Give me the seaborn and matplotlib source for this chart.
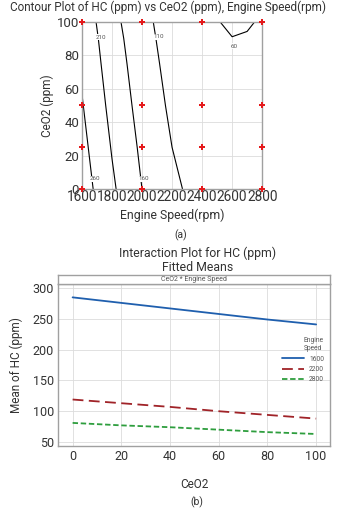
import matplotlib
matplotlib.use("Agg")
import matplotlib.pyplot as plt
import numpy as np
import pandas as pd
import seaborn as sns

# contour surface, HC (ppm)
speed_grid = [1600, 1800, 2000, 2200, 2400, 2500, 2600, 2700, 2800]
ceo2_grid = [0, 25, 50, 75, 90, 100]
hc_grid = [
    [285, 218, 160, 118, 95, 88, 82, 80, 80],
    [274, 207, 151, 110, 88, 81, 76, 75, 75],
    [263, 196, 142, 101, 80, 74, 70, 70, 71],
    [252, 186, 134, 93, 73, 67, 64, 64, 66],
    [246, 180, 129, 88, 69, 63, 60.5, 61.5, 64],
    [241, 175, 125, 85, 66, 61, 56, 58, 62],
]
contour_levels = [60, 110, 160, 210, 260]

# design points
design_speed = [1600, 1600, 1600, 1600, 2000, 2000, 2000, 2000,
                2400, 2400, 2400, 2400, 2800, 2800, 2800, 2800]
design_ceo2 = [0, 25, 50, 100] * 4

# fitted means for the interaction plot
ceo2_levels = [0, 20, 40, 60, 80, 100]
hc_1600 = [285, 276, 267, 258, 249, 241]
hc_2200 = [119, 113, 107, 100, 94, 88]
hc_2800 = [81, 77, 74, 70, 66, 63]

sns.set_theme(style="whitegrid")
plt.rcParams["font.family"] = ["Roboto", "DejaVu Sans"]
txt = "#333333"
frame = "#a0a0a0"

fig = plt.figure(figsize=(3.4, 5.09), dpi=100)

# ---- (a) contour plot
ax1 = fig.add_axes([0.241, 0.6287, 0.530, 0.3283])
X, Y = np.meshgrid(speed_grid, ceo2_grid)
cs = ax1.contour(X, Y, np.array(hc_grid), levels=contour_levels,
                 colors="black", linewidths=0.8)
labels = ax1.clabel(cs, fmt="%d", fontsize=4.5, colors="#555555", inline=False,
                    manual=[(1660, 7), (1711, 92), (1989, 7), (2089, 92), (2622, 88)])
for lab in labels:
    lab.set_rotation(0)
    px, py = lab.get_position()
    if lab.get_text() == "60":
        lab.set_position((px + 5, py - 6))
    else:
        lab.set_position((px + 22, py - 1))
    lab.set_bbox(dict(facecolor="white", edgecolor="none", pad=0.3))
sns.scatterplot(x=design_speed, y=design_ceo2, ax=ax1, color="#e41a1c",
                marker="P", s=16, linewidth=0, clip_on=False, zorder=5)
ax1.set_xlim(1600, 2800)
ax1.set_ylim(0, 100)
ax1.set_xticks(range(1600, 2801, 200))
ax1.set_yticks(range(0, 101, 20))
ax1.grid(color="#dcdcdc", linewidth=0.6)
for s in ax1.spines.values():
    s.set_color(frame)
    s.set_linewidth(1.0)
ax1.tick_params(axis="x", length=0, pad=1, labelsize=9.8, colors=txt)
ax1.tick_params(axis="y", length=0, pad=2, labelsize=9.5, colors=txt)
ax1.set_xlabel("Engine Speed(rpm)", fontsize=8.8, color=txt, labelpad=3)
ax1.set_ylabel("CeO2 (ppm)", fontsize=8.5, color=txt, labelpad=2)
fig.text(0.495, 0.986, "Contour Plot of HC (ppm) vs CeO2 (ppm), Engine Speed(rpm)",
         ha="center", va="center", fontsize=8.5, color=txt)
fig.text(0.53, 0.538, "(a)", ha="center", va="center", fontsize=7.5, color=txt)

# ---- (b) interaction plot
df = pd.DataFrame({
    "CeO2": ceo2_levels * 3,
    "HC": hc_1600 + hc_2200 + hc_2800,
    "Speed": ["1600"] * 6 + ["2200"] * 6 + ["2800"] * 6,
})
ax2 = fig.add_axes([0.1706, 0.1238, 0.80, 0.318])
sns.lineplot(data=df, x="CeO2", y="HC", hue="Speed", style="Speed", ax=ax2,
             palette=["#1f5fae", "#a02328", "#2e9e3e"],
             dashes=[(None, None), (6, 3), (3, 1.5)], linewidth=1.3)
ax2.set_xlim(-6, 105.7)
ax2.set_ylim(43.5, 306.5)
ax2.set_xticks(range(0, 101, 20))
ax2.set_yticks(range(50, 301, 50))
ax2.grid(color="#dcdcdc", linewidth=0.6)
for s in ax2.spines.values():
    s.set_color(frame)
    s.set_linewidth(1.0)
ax2.tick_params(length=0, pad=3, labelsize=9, colors=txt)
ax2.set_xlabel("CeO2", fontsize=8.5, color=txt, labelpad=11)
ax2.set_ylabel("Mean of HC (ppm)", fontsize=8.5, color=txt, labelpad=7)
leg = ax2.legend(title="Engine\nSpeed", loc="center right", frameon=False,
                 fontsize=4.8, title_fontsize=4.8, handlelength=3.2,
                 bbox_to_anchor=(1.0, 0.53), labelspacing=0.5)
leg._legend_box.align = "right"
for t in leg.get_texts():
    t.set_color("#555555")
leg.get_title().set_color("#555555")

# header strip
hdr = fig.add_axes([0.1706, 0.442, 0.80, 0.0177])
hdr.set_xticks([])
hdr.set_yticks([])
hdr.set_facecolor("white")
for s in hdr.spines.values():
    s.set_color(frame)
    s.set_linewidth(1.0)
hdr.text(0.5, 0.5, "CeO2 * Engine Speed", ha="center", va="center",
         fontsize=5, color="#555555", transform=hdr.transAxes)

fig.text(0.582, 0.503, "Interaction Plot for HC (ppm)", ha="center",
         va="center", fontsize=8.8, color=txt)
fig.text(0.582, 0.475, "Fitted Means", ha="center", va="center",
         fontsize=8.8, color=txt)
fig.text(0.58, 0.014, "(b)", ha="center", va="center", fontsize=7.5, color=txt)

fig.savefig("out.png", dpi=100)
